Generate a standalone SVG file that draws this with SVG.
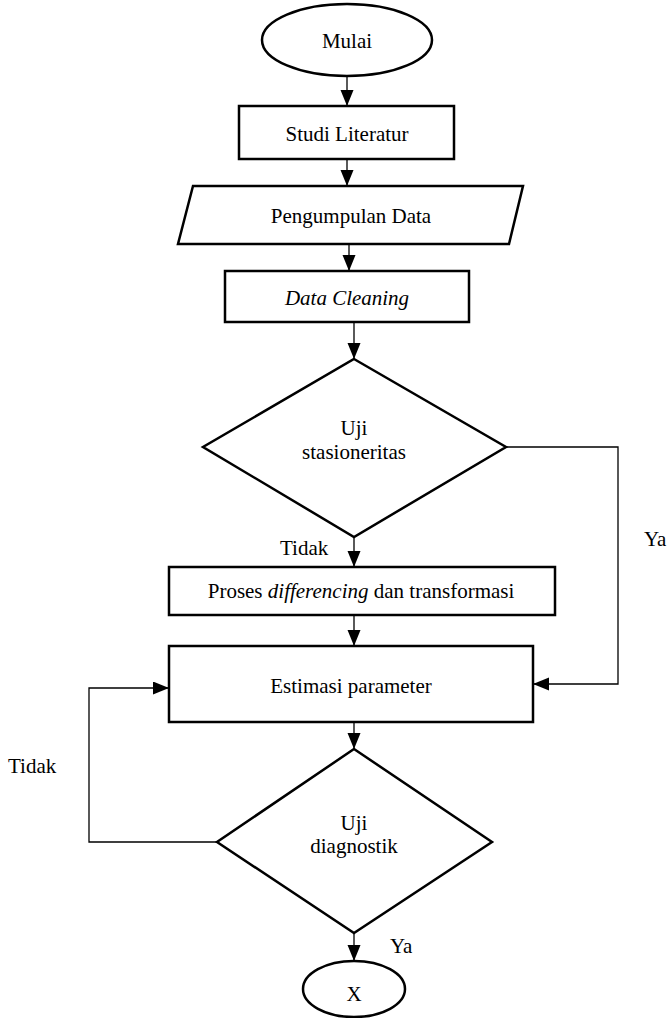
<svg xmlns="http://www.w3.org/2000/svg" width="670" height="1018" viewBox="0 0 670 1018">
<style>
.shape{fill:#fff;stroke:#000;stroke-width:2.5}
.conn{fill:none;stroke:#000;stroke-width:1.3}
text{font-family:"Liberation Serif","Times New Roman",serif;font-size:21px;fill:#000}
.c{text-anchor:middle}
.it{font-style:italic}
</style>
<defs>
<marker id="ah" markerUnits="userSpaceOnUse" markerWidth="16" markerHeight="14" refX="16" refY="6.5" orient="auto">
<path d="M0,0 L16,6.5 L0,13 z" fill="#000"/>
</marker>
</defs>
<rect width="670" height="1018" fill="#fff"/>
<g id="connectors">
<line class="conn" x1="347" y1="76" x2="347" y2="106" marker-end="url(#ah)"/>
<line class="conn" x1="347" y1="159" x2="347" y2="186" marker-end="url(#ah)"/>
<line class="conn" x1="349" y1="244" x2="349" y2="271" marker-end="url(#ah)"/>
<line class="conn" x1="354" y1="322" x2="354" y2="359" marker-end="url(#ah)"/>
<line class="conn" x1="354" y1="537" x2="354" y2="567" marker-end="url(#ah)"/>
<line class="conn" x1="354" y1="615" x2="354" y2="646" marker-end="url(#ah)"/>
<polyline class="conn" points="506,447 618,447 618,684 533,684" marker-end="url(#ah)"/>
<line class="conn" x1="354" y1="722" x2="354" y2="749" marker-end="url(#ah)"/>
<polyline class="conn" points="217,842 89,842 89,688 169,688" marker-end="url(#ah)"/>
<line class="conn" x1="354" y1="933" x2="354" y2="961" marker-end="url(#ah)"/>
<text x="280" y="555">Tidak</text>
<text x="644" y="546">Ya</text>
<text x="8" y="773">Tidak</text>
<text x="390" y="953">Ya</text>
</g>
<g id="mulai">
<ellipse class="shape" cx="347" cy="40" rx="85" ry="36"/>
<text class="c" x="347" y="48">Mulai</text>
</g>
<g id="studi">
<rect class="shape" x="239" y="106" width="215" height="53"/>
<text class="c" x="347" y="141">Studi Literatur</text>
</g>
<g id="pengumpulan">
<polygon class="shape" points="193,186 523,186 509,244 178,244"/>
<text class="c" x="351" y="223">Pengumpulan Data</text>
</g>
<g id="cleaning">
<rect class="shape" x="225" y="271" width="244" height="51"/>
<text class="c it" x="347" y="305">Data Cleaning</text>
</g>
<g id="stasioneritas">
<polygon class="shape" points="354,359 506,447 354,537 203,447"/>
<text class="c" x="354" y="435">Uji</text>
<text class="c" x="354" y="459">stasioneritas</text>
</g>
<g id="differencing">
<rect class="shape" x="169" y="567" width="386" height="48"/>
<text class="c" x="361" y="598">Proses <tspan class="it">differencing</tspan> dan transformasi</text>
</g>
<g id="estimasi">
<rect class="shape" x="169" y="646" width="364" height="76"/>
<text class="c" x="351" y="693">Estimasi parameter</text>
</g>
<g id="diagnostik">
<polygon class="shape" points="354,749 492,842 354,933 217,842"/>
<text class="c" x="354" y="830">Uji</text>
<text class="c" x="354" y="853">diagnostik</text>
</g>
<g id="x">
<ellipse class="shape" cx="354" cy="989" rx="51" ry="28"/>
<text class="c" x="354" y="1001">X</text>
</g>
</svg>
